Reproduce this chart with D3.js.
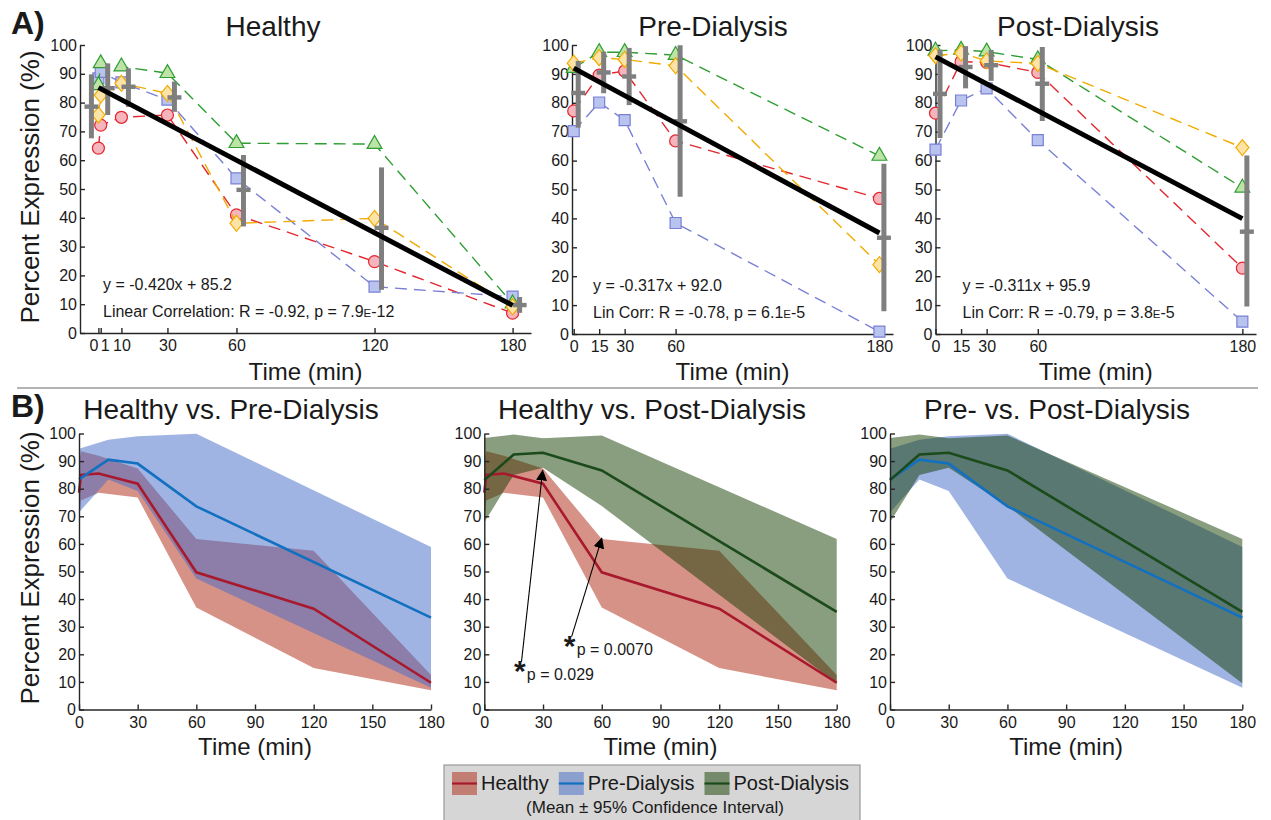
<!DOCTYPE html>
<html>
<head>
<meta charset="utf-8">
<script src="https://cdn.jsdelivr.net/npm/d3@7/dist/d3.min.js"></script>
<style>
  body { margin: 0; background: #fff; }
  text { font-family: "Liberation Sans", Arial, Helvetica, sans-serif; fill: #1a1a1a; }
</style>
</head>
<body>
<svg id="fig" width="1271" height="820"></svg>
<script>
// ---- time points ----
var healthyTimes = [0, 1, 10, 30, 60, 120, 180];
var dialysisTimes = [0, 15, 30, 60, 180];

// ---- individual subjects (percent expression) ----
var healthyCircle   = [64.2, 72.2, 74.9, 75.7, 41.0, 24.8, 6.9];
var healthySquare   = [88.4, 90.7, 87.0, 81.0, 53.7, 16.1, 12.6];
var healthyTriangle = [86.0, 93.6, 92.5, 90.2, 65.9, 65.6, 10.2];
var healthyDiamond  = [75.7, 82.6, 86.7, 83.2, 38.1, 39.8, 9.1];

var preCircle   = [77.2, 89.6, 91.0, 66.8, 46.9];
var preSquare   = [70.2, 80.1, 74.0, 38.4, 0.8];
var preTriangle = [92.0, 97.5, 97.5, 96.5, 61.6];
var preDiamond  = [93.7, 95.6, 95.0, 92.8, 24.0];

var postCircle   = [76.4, 94.2, 94.0, 90.5, 22.8];
var postSquare   = [63.8, 80.8, 85.0, 67.1, 4.3];
var postTriangle = [98.0, 98.3, 97.7, 95.0, 50.6];
var postDiamond  = [96.3, 97.2, 94.5, 93.6, 64.5];

// ---- mean and 95% CI ----
var healthyMean = [78.6, 85.0, 85.5, 81.8, 49.7, 36.5, 9.7];
var healthyLo   = [67.6, 75.7, 78.5, 76.8, 37.0, 15.0, 7.0];
var healthyHi   = [89.8, 93.6, 91.9, 87.3, 61.8, 57.5, 12.5];
var preMean = [83.4, 90.5, 89.1, 73.6, 33.3];
var preLo   = [71.4, 83.3, 79.2, 47.5, 7.9];
var preHi   = [94.5, 97.7, 99.0, 99.9, 58.9];
var postMean = [83.1, 92.4, 93.0, 86.6, 35.4];
var postLo   = [67.8, 85.0, 87.6, 73.7, 9.5];
var postHi   = [98.4, 99.6, 98.3, 99.3, 61.8];

// ---- linear fits ----
var fitSlope = [-0.420, -0.317, -0.311];
var fitIntercept = [85.2, 92.0, 95.9];
var corrPrefix = ['Linear Correlation', 'Lin Corr', 'Lin Corr'];
var corrR = ['-0.92', '-0.78', '-0.79'];
var corrPMant = ['7.9', '6.1', '3.8'];
var corrPExp = ['-12', '-5', '-5'];

// ---- ticks / labels ----
var yTicks = d3.range(0, 101, 10);
var healthyTicks = [0, 1, 10, 30, 60, 120, 180];
var dialysisTicks = [0, 15, 30, 60, 180];
var bTicks = [0, 30, 60, 90, 120, 150, 180];
var titlesA = ['Healthy', 'Pre-Dialysis', 'Post-Dialysis'];
var titlesB = ['Healthy vs. Pre-Dialysis', 'Healthy vs. Post-Dialysis', 'Pre- vs. Post-Dialysis'];
var legendNames = ['Healthy', 'Pre-Dialysis', 'Post-Dialysis'];

// ---- annotations in B2 (time, value) ----
var arrowFrom = [[19.0, 17.3], [44.6, 26.4]];
var arrowTo = [[29.8, 86.6], [60.0, 62.0]];
var arrowLabel = ['p = 0.029', 'p = 0.0070'];
var arrowLabelAt = [[21.7, 10.6], [47.2, 19.7]];

var svg = d3.select('#fig');
var axisColor = '#262626';

var subjStyle = [
  {stroke: '#e3262d', fill: '#f6b5bd', shape: 'circle'},
  {stroke: '#7a80d4', fill: '#b9c3ef', shape: 'square'},
  {stroke: '#2e9e33', fill: '#bde3a6', shape: 'triangle'},
  {stroke: '#f2ab00', fill: '#fde4a6', shape: 'diamond'}
];
var groupStyle = {
  healthy: {band: '#ad2510', line: '#a8192e'},
  pre: {band: '#4169c9', line: '#1270c0'},
  post: {band: '#143b00', line: '#1b4a1b'}
};

function markerPath(shape) {
  if (shape == 'circle') return d3.symbol(d3.symbolCircle, 113)();
  if (shape == 'square') return d3.symbol(d3.symbolSquare, 121)();
  if (shape == 'triangle') return d3.symbol(d3.symbolTriangle, 95)();
  return 'M0,-8L6.5,0L0,8L-6.5,0Z';
}

function drawAxes(g, x, y, ticks, tickShift) {
  var ya = d3.axisLeft(y).tickValues(yTicks).tickSizeInner(-5).tickSizeOuter(0).tickPadding(3);
  var xa = d3.axisBottom(x).tickValues(ticks).tickSizeInner(-5).tickSizeOuter(0).tickPadding(7);
  var gy = g.append('g').attr('transform', 'translate(' + x.range()[0] + ',0)').call(ya);
  var gx = g.append('g').attr('transform', 'translate(0,' + y.range()[0] + ')').call(xa);
  [gy, gx].forEach(function(a) {
    a.select('.domain').attr('stroke', axisColor).attr('stroke-width', 1.4);
    a.selectAll('.tick line').attr('stroke', axisColor).attr('stroke-width', 1.4);
    a.selectAll('.tick text').attr('font-size', 16).attr('fill', axisColor)
      .style('font-family', '"Liberation Sans", Arial, sans-serif');
  });
  if (tickShift) {
    gx.selectAll('.tick text').attr('dx', function(d) { return tickShift[d] || 0; });
  }
}

// ================= A) =================
var panelsA = [
  {times: healthyTimes, subj: [healthyCircle, healthySquare, healthyTriangle, healthyDiamond],
   mean: healthyMean, lo: healthyLo, hi: healthyHi, ticks: healthyTicks,
   xDom: [-8, 188], xRange: [80, 531], yRange: [333, 45], titleX: 273, eqX: 23,
   barShift: function(t) { return t === 0 ? -7 : 7; }, tickShift: {0: -5, 1: 4}},
  {times: dialysisTimes, subj: [preCircle, preSquare, preTriangle, preDiamond],
   mean: preMean, lo: preLo, hi: preHi, ticks: dialysisTicks,
   xDom: [-1, 188], xRange: [572, 893], yRange: [334, 45], titleX: 713, eqX: 21,
   barShift: function(t) { return 4.5; }},
  {times: dialysisTimes, subj: [postCircle, postSquare, postTriangle, postDiamond],
   mean: postMean, lo: postLo, hi: postHi, ticks: dialysisTicks,
   xDom: [0, 188], xRange: [935.5, 1256], yRange: [334, 45], titleX: 1078, eqX: 27,
   barShift: function(t) { return 4.5; }}
];

panelsA.forEach(function(p, i) {
  var g = svg.append('g');
  var x = d3.scaleLinear().domain(p.xDom).range(p.xRange);
  var y = d3.scaleLinear().domain([0, 100]).range(p.yRange);

  drawAxes(g, x, y, p.ticks, p.tickShift);

  // subjects: dashed lines + markers
  p.subj.forEach(function(vals, s) {
    var st = subjStyle[s];
    var pts = vals.map(function(v, k) { return [p.times[k], v]; });
    g.append('path').datum(pts)
      .attr('fill', 'none').attr('stroke', st.stroke).attr('stroke-width', 1.4)
      .attr('stroke-dasharray', '12,7')
      .attr('d', d3.line().x(function(d) { return x(d[0]); }).y(function(d) { return y(d[1]); }));
    g.selectAll('.m' + s).data(pts).enter().append('path')
      .attr('transform', function(d) { return 'translate(' + x(d[0]) + ',' + y(d[1]) + ')'; })
      .attr('d', markerPath(st.shape))
      .attr('fill', st.fill).attr('stroke', st.stroke).attr('stroke-width', 1.2);
  });

  // mean +/- CI bars
  p.times.forEach(function(t, k) {
    var bx = x(t) + p.barShift(t);
    g.append('line').attr('x1', bx).attr('x2', bx)
      .attr('y1', y(p.lo[k])).attr('y2', y(p.hi[k]))
      .attr('stroke', '#7f7f7f').attr('stroke-width', 5);
    g.append('rect').attr('x', bx - 7).attr('y', y(p.mean[k]) - 2.2)
      .attr('width', 14).attr('height', 4.4).attr('fill', '#7f7f7f');
  });

  // regression line
  g.append('line')
    .attr('x1', x(0)).attr('y1', y(fitIntercept[i]))
    .attr('x2', x(180)).attr('y2', y(fitIntercept[i] + fitSlope[i] * 180))
    .attr('stroke', '#000').attr('stroke-width', 5);

  // equation text
  var ex = p.xRange[0] + p.eqX;
  g.append('text').attr('x', ex).attr('y', y(0) - 43).attr('font-size', 16)
    .text('y = ' + fitSlope[i].toFixed(3) + 'x + ' + fitIntercept[i].toFixed(1));
  var ct = g.append('text').attr('x', ex).attr('y', y(0) - 16).attr('font-size', 16);
  ct.append('tspan').text(corrPrefix[i] + ': R = ' + corrR[i] + ', p = ' + corrPMant[i]);
  ct.append('tspan').attr('font-size', 11.5).text('E');
  ct.append('tspan').text(corrPExp[i]);

  // title and axis labels
  g.append('text').attr('x', p.titleX).attr('y', 36).attr('text-anchor', 'middle')
    .attr('font-size', 28).text(titlesA[i]);
  g.append('text').attr('x', (p.xRange[0] + p.xRange[1]) / 2).attr('y', 380)
    .attr('text-anchor', 'middle').attr('font-size', 24).text('Time (min)');
  if (i == 0) {
    g.append('text').attr('transform', 'translate(39,187) rotate(-90)')
      .attr('text-anchor', 'middle').attr('font-size', 26).text('Percent Expression (%)');
  }
});

// separator
svg.append('line').attr('x1', 17).attr('x2', 1258).attr('y1', 388).attr('y2', 388)
  .attr('stroke', '#b4b4b4').attr('stroke-width', 2);

svg.append('text').attr('x', 11).attr('y', 34).attr('font-size', 32).attr('font-weight', 'bold').text('A)');
svg.append('text').attr('x', 11).attr('y', 417).attr('font-size', 32).attr('font-weight', 'bold').text('B)');

// ================= B) =================
var groups = {
  healthy: {times: healthyTimes, mean: healthyMean, lo: healthyLo, hi: healthyHi},
  pre: {times: dialysisTimes, mean: preMean, lo: preLo, hi: preHi},
  post: {times: dialysisTimes, mean: postMean, lo: postLo, hi: postHi}
};
var panelsB = [
  {pair: ['healthy', 'pre'], xRange: [79, 431], titleX: 231},
  {pair: ['healthy', 'post'], xRange: [484.3, 836.7], titleX: 652},
  {pair: ['pre', 'post'], xRange: [890, 1242.3], titleX: 1057}
];

panelsB.forEach(function(p, i) {
  var g = svg.append('g');
  var x = d3.scaleLinear().domain([0, 180]).range(p.xRange);
  var y = d3.scaleLinear().domain([0, 100]).range([709.5, 433.5]);

  p.pair.forEach(function(name) {
    var gr = groups[name];
    var pts = gr.times.map(function(t, k) { return {t: t, lo: gr.lo[k], hi: gr.hi[k]}; });
    g.append('path').datum(pts)
      .attr('fill', groupStyle[name].band).attr('fill-opacity', 0.5)
      .attr('d', d3.area().x(function(d) { return x(d.t); })
        .y0(function(d) { return y(d.lo); }).y1(function(d) { return y(d.hi); }));
  });
  p.pair.forEach(function(name) {
    var gr = groups[name];
    var pts = gr.times.map(function(t, k) { return [t, gr.mean[k]]; });
    g.append('path').datum(pts)
      .attr('fill', 'none').attr('stroke', groupStyle[name].line).attr('stroke-width', 2.6)
      .attr('d', d3.line().x(function(d) { return x(d[0]); }).y(function(d) { return y(d[1]); }));
  });

  drawAxes(g, x, y, bTicks);

  g.append('text').attr('x', p.titleX).attr('y', 419).attr('text-anchor', 'middle')
    .attr('font-size', 28).text(titlesB[i]);
  g.append('text').attr('x', (p.xRange[0] + p.xRange[1]) / 2).attr('y', 755)
    .attr('text-anchor', 'middle').attr('font-size', 24).text('Time (min)');
  if (i == 0) {
    g.append('text').attr('transform', 'translate(39,568) rotate(-90)')
      .attr('text-anchor', 'middle').attr('font-size', 26).text('Percent Expression (%)');
  }

  if (i == 1) {
    svg.append('defs').append('marker').attr('id', 'ah')
      .attr('viewBox', '0 0 10 10').attr('refX', 9).attr('refY', 5)
      .attr('markerWidth', 11).attr('markerHeight', 11).attr('markerUnits', 'userSpaceOnUse')
      .attr('orient', 'auto')
      .append('path').attr('d', 'M0,0L10,5L0,10Z').attr('fill', '#000');
    arrowFrom.forEach(function(f, k) {
      g.append('line')
        .attr('x1', x(f[0])).attr('y1', y(f[1]))
        .attr('x2', x(arrowTo[k][0])).attr('y2', y(arrowTo[k][1]))
        .attr('stroke', '#000').attr('stroke-width', 1.1).attr('marker-end', 'url(#ah)');
      var lx = x(arrowLabelAt[k][0]), ly = y(arrowLabelAt[k][1]);
      g.append('text').attr('x', lx - 7).attr('y', ly + 1).attr('font-size', 30)
        .attr('font-weight', 'bold').attr('text-anchor', 'middle').text('*');
      g.append('text').attr('x', lx).attr('y', ly).attr('font-size', 16).text(arrowLabel[k]);
    });
  }
});

// ================= legend =================
var lg = svg.append('g');
lg.append('rect').attr('x', 444).attr('y', 765).attr('width', 416).attr('height', 70)
  .attr('fill', '#d6d6d6').attr('stroke', '#9a9a9a').attr('stroke-width', 1.2);
var lx = 452;
['healthy', 'pre', 'post'].forEach(function(name, k) {
  lg.append('rect').attr('x', lx).attr('y', 772).attr('width', 25).attr('height', 23)
    .attr('fill', groupStyle[name].band).attr('fill-opacity', 0.5);
  lg.append('line').attr('x1', lx).attr('x2', lx + 25).attr('y1', 783.5).attr('y2', 783.5)
    .attr('stroke', groupStyle[name].line).attr('stroke-width', 2.2);
  var t = lg.append('text').attr('x', lx + 29).attr('y', 790).attr('font-size', 20).text(legendNames[k]);
  lx = lx + 29 + t.node().getComputedTextLength() + 10;
});
lg.append('text').attr('x', 655).attr('y', 813).attr('text-anchor', 'middle')
  .attr('font-size', 17).text('(Mean \u00b1 95% Confidence Interval)');
</script>
</body>
</html>
